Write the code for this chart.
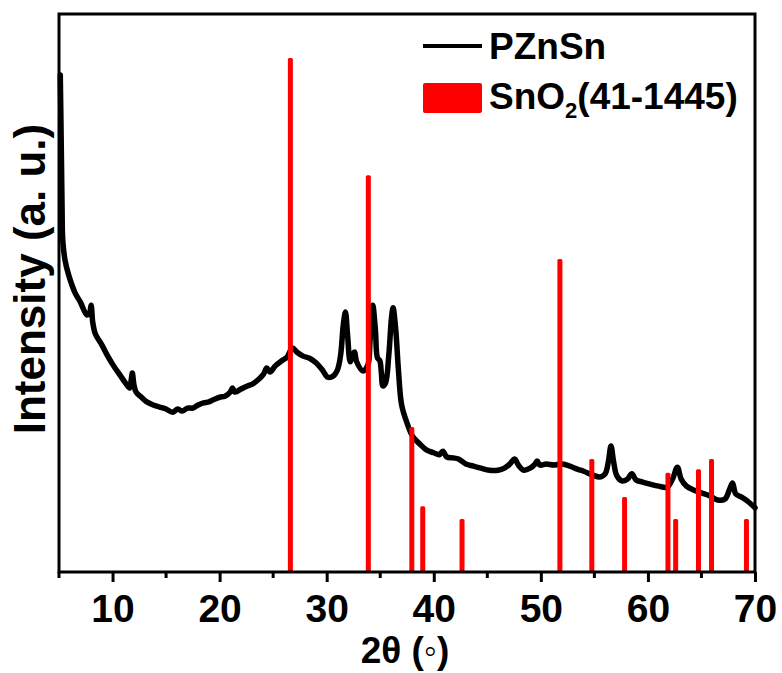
<!DOCTYPE html>
<html>
<head>
<meta charset="utf-8">
<script src="https://cdn.jsdelivr.net/npm/d3@7"></script>
<style>
  body { margin: 0; background: #fff; }
  text { font-family: "Liberation Sans", Arial, sans-serif; font-weight: bold; }
</style>
</head>
<body>
<div id="app"></div>
<script>
// measured pattern of PZnSn (2theta in degrees, intensity in a.u.)
const twoTheta = [5.12, 5.18, 5.23, 5.29, 5.35, 5.56, 5.9, 6.5, 7.0, 7.6, 7.85, 8.0, 8.15, 8.4, 9.0, 9.5, 10.1, 10.7, 11.2, 11.6, 11.75, 11.85, 12.0, 12.2, 12.7, 13.2, 13.8, 14.4, 15.0, 15.6, 16.1, 16.5, 17.0, 17.5, 18.0, 18.5, 19.0, 19.4, 20.0, 20.5, 21.0, 21.2, 21.4, 22.0, 22.6, 23.1, 23.6, 24.1, 24.4, 24.7, 25.2, 25.8, 26.3, 26.8, 27.2, 27.8, 28.4, 29.0, 29.6, 30.1, 30.6, 31.0, 31.3, 31.55, 31.75, 31.95, 32.2, 32.45, 32.6, 32.8, 33.4, 33.85, 34.05, 34.3, 34.55, 34.75, 34.95, 35.1, 35.25, 35.5, 35.8, 36.05, 36.2, 36.45, 36.7, 37.0, 37.5, 38.05, 38.7, 39.35, 40.0, 40.5, 40.85, 41.2, 41.8, 42.3, 43.0, 43.7, 44.4, 45.2, 46.0, 46.6, 47.1, 47.55, 47.9, 48.4, 49.0, 49.45, 49.65, 49.9, 50.5, 51.2, 52.0, 52.7, 53.4, 54.0, 54.8, 55.5, 56.0, 56.3, 56.55, 56.8, 57.1, 57.6, 58.1, 58.5, 58.9, 59.5, 60.2, 61.0, 61.8, 62.3, 62.75, 63.1, 63.6, 64.2, 65.0, 65.8, 66.5, 67.2, 67.6, 67.9, 68.2, 68.7, 69.3, 70.0];
const intensity = [96.7, 87.9, 80.2, 70.4, 64.6, 60.7, 57.8, 54.3, 52.5, 50.0, 50.4, 51.9, 48.6, 46.3, 44.2, 42.2, 40.1, 38.3, 36.8, 35.8, 37.5, 38.7, 36.4, 35.0, 34.0, 33.1, 32.5, 32.1, 31.7, 31.1, 31.7, 31.3, 31.9, 31.9, 32.5, 32.9, 33.1, 33.5, 34.0, 34.2, 35.0, 35.8, 35.0, 35.6, 36.2, 36.6, 37.4, 38.5, 39.7, 38.9, 40.1, 41.1, 41.8, 43.6, 42.8, 42.0, 41.6, 40.7, 39.3, 37.9, 38.1, 39.3, 42.2, 48.1, 50.6, 46.1, 40.9, 42.4, 42.8, 40.9, 39.1, 40.3, 45.1, 51.9, 47.1, 41.6, 41.2, 38.9, 36.2, 36.8, 42.2, 49.4, 51.4, 47.1, 39.3, 32.5, 29.0, 26.3, 24.9, 23.7, 23.2, 22.8, 23.5, 22.4, 22.2, 22.0, 21.0, 20.6, 20.2, 19.8, 19.8, 20.2, 21.0, 22.0, 20.8, 19.8, 20.2, 21.0, 21.6, 20.8, 21.0, 20.8, 21.0, 20.6, 20.0, 19.6, 18.9, 18.5, 19.1, 21.4, 24.5, 21.4, 18.7, 17.7, 18.1, 19.1, 17.9, 17.5, 17.1, 16.7, 16.5, 18.1, 20.4, 18.1, 16.7, 16.0, 15.4, 14.8, 14.0, 14.2, 15.95, 17.3, 15.2, 14.6, 13.8, 12.5];

// SnO2 reference card 41-1445 (position, relative intensity)
const refPos = [26.61, 33.89, 37.95, 38.97, 42.64, 51.78, 54.76, 57.82, 61.87, 62.59, 64.72, 65.94, 69.2];
const refInt = [100, 77.2, 28.2, 12.8, 10.3, 60.9, 22.0, 14.6, 19.3, 10.3, 20.0, 22.0, 10.3];

const xTicks = [10, 20, 30, 40, 50, 60, 70];
const xMinorTicks = [5, 15, 25, 35, 45, 55, 65];

const width = 782, height = 673;
const margin = { left: 59, right: 27, top: 14, bottom: 101 };

const svg = d3
  .select("#app")
  .append("svg")
  .attr("width", width)
  .attr("height", height);

const x = d3
  .scaleLinear()
  .domain([5, 70])
  .range([margin.left, width - margin.right]);

const y = d3
  .scaleLinear()
  .domain([0, 100])
  .range([height - margin.bottom, 58]);

const plotBottom = height - margin.bottom;

//curve
const pattern = twoTheta.map((d, i) => [d, intensity[i]]);
const line = d3
  .line()
  .x((d) => x(d[0]))
  .y((d) => y(d[1]))
  .curve(d3.curveCatmullRom.alpha(0.5));

svg
  .append("path")
  .datum(pattern)
  .attr("d", line)
  .attr("fill", "none")
  .attr("stroke", "#000")
  .attr("stroke-width", 5.5)
  .attr("stroke-linejoin", "round")
  .attr("stroke-linecap", "round");

//reference bars
svg
  .selectAll(".ref")
  .data(refPos)
  .enter()
  .append("rect")
  .attr("class", "ref")
  .attr("x", (d) => x(d) - 2.5)
  .attr("y", (d, i) => y(refInt[i]))
  .attr("width", 5)
  .attr("height", (d, i) => y(0) - y(refInt[i]))
  .attr("rx", 1.5)
  .attr("fill", "#ff0000");

//frame
svg
  .append("rect")
  .attr("x", margin.left)
  .attr("y", margin.top)
  .attr("width", width - margin.right - margin.left)
  .attr("height", plotBottom - margin.top)
  .attr("fill", "none")
  .attr("stroke", "#000")
  .attr("stroke-width", 3);

//x axis
const xAxis = d3
  .axisBottom(x)
  .tickValues(xTicks)
  .tickSize(10)
  .tickFormat(d3.format("d"));

const gx = svg
  .append("g")
  .attr("transform", `translate(0,${plotBottom})`)
  .call(xAxis);
gx.select(".domain").remove();
gx.selectAll(".tick line").attr("stroke", "#000").attr("stroke-width", 3);
gx.selectAll(".tick text")
  .attr("y", 50)
  .attr("dy", 0)
  .attr("fill", "#000")
  .style("font-size", "39px")
  .style("font-family", '"Liberation Sans", Arial, sans-serif')
  .style("font-weight", "bold");

svg
  .append("g")
  .selectAll("line")
  .data(xMinorTicks)
  .enter()
  .append("line")
  .attr("x1", (d) => x(d))
  .attr("x2", (d) => x(d))
  .attr("y1", plotBottom)
  .attr("y2", plotBottom + 6)
  .attr("stroke", "#000")
  .attr("stroke-width", 3);

//axis titles
const xTitle = svg
  .append("text")
  .attr("x", x(37.5) - 2)
  .attr("y", 663)
  .attr("text-anchor", "middle")
  .style("font-size", "37px");
xTitle.append("tspan").text("2θ (");
xTitle.append("tspan").style("font-weight", "normal").text("◦");
xTitle.append("tspan").text(")");

svg
  .append("text")
  .attr("transform", `translate(45,279) rotate(-90)`)
  .attr("text-anchor", "middle")
  .style("font-size", "44px")
  .text("Intensity (a. u.)");

//legend
svg
  .append("line")
  .attr("x1", 423)
  .attr("x2", 482)
  .attr("y1", 46)
  .attr("y2", 46)
  .attr("stroke", "#000")
  .attr("stroke-width", 4);

svg
  .append("text")
  .attr("x", 489)
  .attr("y", 59)
  .style("font-size", "37px")
  .text("PZnSn");

svg
  .append("rect")
  .attr("x", 423)
  .attr("y", 83)
  .attr("width", 59)
  .attr("height", 30)
  .attr("rx", 2)
  .attr("fill", "#ff0000");

const leg2 = svg
  .append("text")
  .attr("x", 489)
  .attr("y", 109)
  .style("font-size", "37px");
leg2.append("tspan").text("SnO");
leg2.append("tspan").attr("dy", 9).style("font-size", "22px").text("2");
leg2.append("tspan").attr("dy", -9).text("(41-1445)");
</script>
</body>
</html>
